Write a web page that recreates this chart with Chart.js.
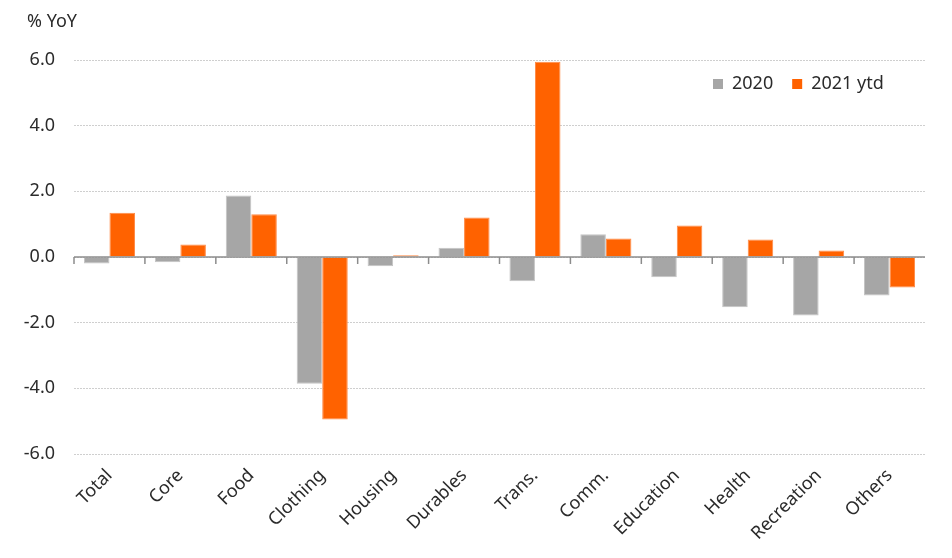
<!DOCTYPE html>
<html>
<head>
<meta charset="utf-8">
<script src="https://cdn.jsdelivr.net/npm/chart.js@4.4.1/dist/chart.umd.min.js"></script>
<style>
html,body{margin:0;padding:0;background:#fff;}
#wrap{width:952px;height:558px;}
</style>
</head>
<body>
<div id="wrap"><canvas id="c" width="952" height="558"></canvas></div>
<script>
const categories = ["Total","Core","Food","Clothing","Housing","Durables","Trans.","Comm.","Education","Health","Recreation","Others"];
const values2020 = [-0.20,-0.16,1.87,-3.86,-0.28,0.28,-0.74,0.69,-0.62,-1.53,-1.78,-1.17];
const values2021 = [1.35,0.38,1.30,-4.95,0.05,1.20,5.95,0.56,0.96,0.53,0.20,-0.93];
const seriesLabels = ["2020","2021 ytd"];
const yTickValues = [-6,-4,-2,0,2,4,6];
const unitLabel = "% YoY";

const FONT = "'Noto Sans', 'Open Sans', sans-serif";
const TEXT = "#2b2b2b";

const zeroLinePlugin = {
  id: 'zeroLine',
  afterDatasetsDraw(chart) {
    const {ctx, chartArea, scales} = chart;
    const y0 = scales.y.getPixelForValue(0);
    const xs = scales.x;
    ctx.save();
    ctx.strokeStyle = '#8c8c8c';
    ctx.lineWidth = 1.5;
    ctx.beginPath();
    ctx.moveTo(chartArea.left, y0);
    ctx.lineTo(chartArea.right, y0);
    ctx.stroke();
    for (let i = 0; i < categories.length; i++) {
      const x = i === 0 ? chartArea.left : (xs.getPixelForValue(i - 1) + xs.getPixelForValue(i)) / 2;
      ctx.beginPath();
      ctx.moveTo(x, y0);
      ctx.lineTo(x, y0 + 7);
      ctx.stroke();
    }
    ctx.restore();
  }
};

const customLegend = {
  id: 'customLegend',
  afterDraw(chart) {
    const {ctx} = chart;
    ctx.save();
    ctx.font = "18px " + FONT;
    ctx.textBaseline = 'middle';
    ctx.textAlign = 'left';
    ctx.fillStyle = TEXT;
    ctx.fillText(unitLabel, 27, 22);
    let x = 713;
    const yc = 84;
    chart.data.datasets.forEach(ds => {
      ctx.fillStyle = ds.backgroundColor;
      ctx.fillRect(x, yc - 5, 10, 10);
      ctx.fillStyle = TEXT;
      ctx.fillText(ds.label, x + 19, yc);
      x += 19 + ctx.measureText(ds.label).width + 19;
    });
    ctx.restore();
  }
};

new Chart(document.getElementById('c'), {
  type: 'bar',
  data: {
    labels: categories,
    datasets: [
      { label: seriesLabels[0], data: values2020, backgroundColor: '#a6a6a6', borderColor: '#c4c4c4', borderWidth: 1, categoryPercentage: 0.72, barPercentage: 1.0 },
      { label: seriesLabels[1], data: values2021, backgroundColor: '#ff6200', borderColor: '#ff8a45', borderWidth: 1, categoryPercentage: 0.72, barPercentage: 1.0 }
    ]
  },
  options: {
    responsive: false,
    devicePixelRatio: 1,
    animation: false,
    layout: { padding: { left: 5, right: 27, top: 60, bottom: 0 } },
    plugins: {
      legend: { display: false },
      title: { display: false },
      tooltip: { enabled: false }
    },
    scales: {
      x: {
        grid: { display: false, drawTicks: false },
        border: { display: false },
        ticks: { color: TEXT, font: { family: FONT, size: 18 }, minRotation: 45, maxRotation: 45, padding: 11, autoSkip: false },
        afterFit(scale) { scale.height = 104; }
      },
      y: {
        min: -6, max: 6,
        afterBuildTicks(scale) { scale.ticks = yTickValues.map(v => ({ value: v })); },
        grid: { color: '#cfcfcf', lineWidth: 1, drawTicks: false },
        border: { display: false, dash: [2, 1] },
        ticks: { color: TEXT, font: { family: FONT, size: 18 }, padding: 19, callback: v => Number(v).toFixed(1) },
        afterFit(scale) { scale.width = 69; }
      }
    }
  },
  plugins: [zeroLinePlugin, customLegend]
});
</script>
</body>
</html>
